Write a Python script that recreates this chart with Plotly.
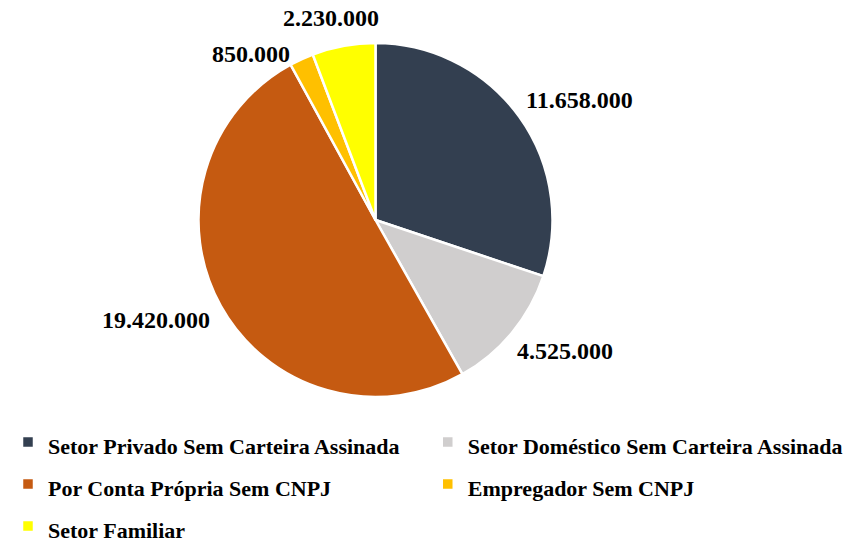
import math
import plotly.graph_objects as go

categories = [
    "Setor Privado Sem Carteira Assinada",
    "Setor Doméstico Sem Carteira Assinada",
    "Por Conta Própria Sem CNPJ",
    "Empregador Sem CNPJ",
    "Setor Familiar",
]
values = [11658000, 4525000, 19420000, 850000, 2230000]
colors = ["#333F50", "#D0CECE", "#C55A11", "#FFC000", "#FFFF00"]

# the page body has an 8px default margin: size the figure to the visible area
OFF = 8
W, H = 862 - OFF, 556 - OFF
ML, MR, MT, MB = 0, 0, 0, 0
PW, PH = W - ML - MR, H - MT - MB
FONT = "Liberation Serif"
LABEL_SIZE = 24
LEGEND_SIZE = 22


def fx(px):
    # screen pixel -> plot-area fraction
    return (px - OFF - ML) / PW


def fy(py):
    return (H - MB - (py - OFF)) / PH


# pie geometry (screen pixels)
px0, px1, py0, py1 = 198, 553, 43, 397
cx, cy = (px0 + px1) / 2, (py0 + py1) / 2
R = (px1 - px0) / 2


def fmt(v):
    return f"{v:,}".replace(",", ".")


def text_w(s, size):
    return sum(0.5 if ch.isdigit() else 0.25 for ch in s) * size


# outside label boxes from the slice angles
total = sum(values)
boxes = []
cum = 0
gx, gy = 20, 18
th = LABEL_SIZE * 0.85
for v in values:
    mid = (cum + v / 2) / total * 2 * math.pi
    cum += v
    dx, dy = math.sin(mid), -math.cos(mid)
    s = fmt(v)
    w = text_w(s, LABEL_SIZE)
    lx = cx + (R + gx + w / 2) * dx
    ly = cy + (R + gy + th / 2) * dy
    boxes.append([lx, ly, w, th, dx, dy, s])


def overlap(a, b):
    return (abs(a[0] - b[0]) < (a[2] + b[2]) / 2) and (abs(a[1] - b[1]) < (a[3] + b[3]) / 2)


# resolve collisions: push the lower conflicting label down and away from the pie
n = len(boxes)
for i in range(n):
    for j in range(i + 1, n):
        a, b = boxes[i], boxes[j]
        if overlap(a, b):
            lo, hi = (a, b) if a[1] > b[1] else (b, a)
            lo[1] = hi[1] + (hi[3] + lo[3]) / 2 + 16
            ey = lo[1] + lo[3] / 2 if lo[1] < cy else lo[1] - lo[3] / 2
            need = math.sqrt(max(R ** 2 - (ey - cy) ** 2, 0))
            if lo[4] < 0:
                lo[0] = min(lo[0], cx - need - lo[2] / 2)
            else:
                lo[0] = max(lo[0], cx + need + lo[2] / 2)

annotations = [
    dict(
        x=fx(b[0]), y=fy(b[1]), xref="paper", yref="paper",
        text="<b>" + b[6] + "</b>", showarrow=False,
        xanchor="center", yanchor="middle",
        font=dict(family=FONT, size=LABEL_SIZE, color="black"),
    )
    for b in boxes
]

fig = go.Figure(go.Pie(
    labels=[f"<span style='font-size:{LEGEND_SIZE}px'>{c}</span>" for c in categories],
    values=values,
    sort=False,
    direction="clockwise",
    rotation=0,
    marker=dict(colors=colors, line=dict(color="white", width=2.5)),
    textinfo="none",
    hovertemplate="%{customdata}: %{value:,}<extra></extra>",
    customdata=categories,
    domain=dict(x=[fx(px0), fx(px1)], y=[fy(py1), fy(py0)]),
))

fig.update_layout(
    width=W, height=H,
    margin=dict(l=ML, r=MR, t=MT, b=MB),
    paper_bgcolor="white",
    separators=",.",
    font=dict(family=FONT),
    showlegend=True,
    annotations=annotations,
    legend=dict(
        orientation="h",
        x=0, xanchor="left",
        y=fy(416), yanchor="top",
        font=dict(family=FONT, size=30, color="black", weight="bold"),
        traceorder="normal",
    ),
)

fig.write_html("out.html")
